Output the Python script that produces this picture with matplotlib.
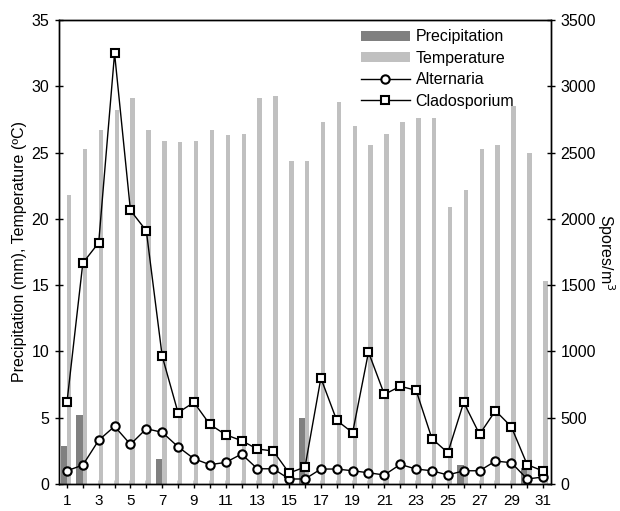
import matplotlib
matplotlib.use("Agg")
import matplotlib.pyplot as plt
import numpy as np

plt.rcParams['font.family'] = ['Liberation Sans', 'DejaVu Sans']

days = list(range(1, 32))
precipitation = [2.9, 5.2, 0, 0, 0, 0, 1.9, 0, 0, 0, 0, 0, 0, 0, 0, 5.0,
                 0, 0, 0, 0, 0, 0, 0, 0, 0, 1.4, 0, 0, 0, 1.2, 0]
temperature = [21.8, 25.3, 26.7, 28.2, 29.1, 26.7, 25.9, 25.8, 25.9, 26.7,
               26.3, 26.4, 29.1, 29.3, 24.4, 24.4, 27.3, 28.8, 27.0, 25.6,
               26.4, 27.3, 27.6, 27.6, 20.9, 22.2, 25.3, 25.6, 28.5, 25.0, 15.3]
alternaria = [100, 143, 330, 435, 299, 417, 390, 281, 191, 146, 163, 226, 115,
              115, 38, 38, 113, 113, 100, 85, 68, 148, 113, 100, 68, 100, 100,
              173, 161, 38, 53]
cladosporium = [616, 1667, 1820, 3248, 2064, 1910, 965, 538, 616, 450, 372,
                327, 264, 249, 83, 128, 799, 480, 387, 995, 676, 737, 707, 342,
                236, 616, 375, 553, 432, 146, 98]

fig = plt.figure(figsize=(6.2, 5.11), dpi=100)
ax = fig.add_axes([0.0952, 0.0528, 0.7935, 0.9081])
ax2 = ax.twinx()

x = np.array(days)
b1 = ax.bar(x, precipitation, width=-0.4, align='edge', color='#808080', label='Precipitation', zorder=2)
b2 = ax.bar(x, temperature, width=0.28, align='edge', color='#c0c0c0', label='Temperature', zorder=2)

l1, = ax2.plot(x, alternaria, '-o', color='black', lw=1, markersize=6,
               markerfacecolor='white', markeredgecolor='black', markeredgewidth=1.5,
               label='Alternaria')
l2, = ax2.plot(x, cladosporium, '-s', color='black', lw=1, markersize=6,
               markerfacecolor='white', markeredgecolor='black', markeredgewidth=1.5,
               label='Cladosporium')

ax.set_xlim(0.5, 31.5)
ax.set_ylim(0, 35)
ax2.set_ylim(0, 3500)
ax.set_xticks(days)
ax.set_xticklabels([str(d) if d % 2 == 1 else '' for d in days])
ax.set_yticks(range(0, 36, 5))
ax2.set_yticks(range(0, 3501, 500))

for a in (ax, ax2):
    a.tick_params(direction='inout', length=6, width=1, labelsize=11.5, pad=4)
    for s in a.spines.values():
        s.set_linewidth(1)
ax.tick_params(axis='x', pad=4, labelsize=11)

ax.set_ylabel('Precipitation (mm), Temperature (ºC)', fontsize=11.5, labelpad=3)
ax2.set_ylabel('Spores/m$^3$', fontsize=11.5, rotation=270, labelpad=15)

leg = ax2.legend([b1, b2, l1, l2], ['Precipitation', 'Temperature', 'Alternaria', 'Cladosporium'],
                 loc='upper left', bbox_to_anchor=(0.6, 0.9935), frameon=False, fontsize=11.5,
                 handlelength=3.1, handleheight=0.6, handletextpad=0.35, labelspacing=0.4,
                 borderaxespad=0)

fig.savefig('out.png', dpi=100)
